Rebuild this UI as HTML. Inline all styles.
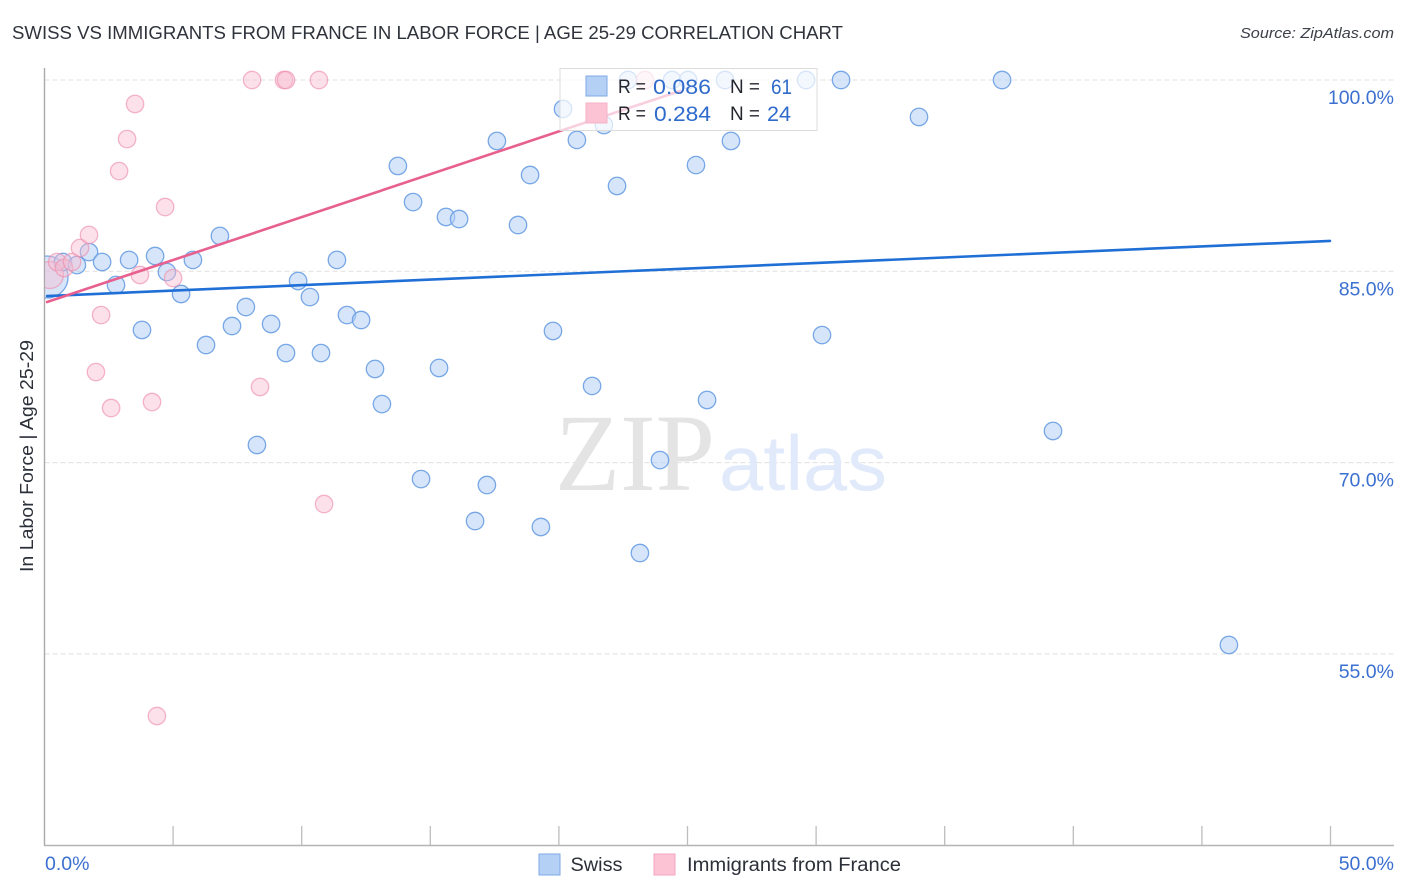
<!DOCTYPE html>
<html lang="en">
<head>
<meta charset="utf-8">
<title>Swiss vs Immigrants from France Correlation Chart</title>
<style>
html,body{margin:0;padding:0;background:#fff;width:1406px;height:892px;overflow:hidden}
svg{display:block;font-family:"Liberation Sans",sans-serif}
</style>
</head>
<body>
<svg id="chart" xmlns="http://www.w3.org/2000/svg" width="1406" height="892" viewBox="0 0 1406 892">
  <defs>
    <clipPath id="plot-clip"><rect x="45" y="60" width="1349" height="785"/></clipPath>
  </defs>
  <text x="12" y="39" font-size="18.5" fill="#2f333b" textLength="831" lengthAdjust="spacingAndGlyphs">SWISS VS IMMIGRANTS FROM FRANCE IN LABOR FORCE | AGE 25-29 CORRELATION CHART</text>
  <text x="1394" y="38" font-size="15" font-style="italic" fill="#3c4048" text-anchor="end" textLength="154" lengthAdjust="spacingAndGlyphs">Source: ZipAtlas.com</text>
  <text transform="translate(33,456) rotate(-90)" font-size="18.5" fill="#2b2f38" text-anchor="middle" textLength="232" lengthAdjust="spacingAndGlyphs">In Labor Force | Age 25-29</text>
  <g id="grid"></g>
  <g>
    <text x="555" y="490" font-family="'Liberation Serif',serif" font-size="110" fill="#e4e4e4" textLength="160" lengthAdjust="spacingAndGlyphs">ZIP</text>
    <text x="719" y="490" font-size="78" fill="#e1eafa" textLength="168" lengthAdjust="spacingAndGlyphs">atlas</text>
  </g>
  <g id="axes">
    <line x1="44.5" y1="68" x2="44.5" y2="845.5" stroke="#aaaaaa" stroke-width="1.4"/>
    <line x1="44" y1="845.5" x2="1394" y2="845.5" stroke="#b4b4b4" stroke-width="1.4"/>
  </g>
  <g clip-path="url(#plot-clip)">
    <g id="blue-points"></g>
    <g id="pink-points"></g>
  </g>
  <g id="trends"></g>
  <g id="tick-labels"></g>
  <g>
    <rect x="560" y="68.5" width="257" height="62" fill="#ffffff" fill-opacity="0.7" stroke="#dcdcdc" stroke-width="1"/>
    <rect x="586" y="76" width="21" height="20" fill="#b5d0f5" stroke="#7ea9e6" stroke-width="1"/>
    <rect x="586" y="103" width="21" height="20" fill="#fcc3d4" stroke="#f5b3c8" stroke-width="1"/>
    <text x="618" y="93" font-size="19" fill="#23262d" textLength="28" lengthAdjust="spacingAndGlyphs">R =</text>
    <text x="653" y="94" font-size="21" fill="#2f6bcb" textLength="58" lengthAdjust="spacingAndGlyphs">0.086</text>
    <text x="730" y="93" font-size="19" fill="#23262d" textLength="30" lengthAdjust="spacingAndGlyphs">N =</text>
    <text x="771" y="94" font-size="21" fill="#2f6bcb" textLength="21" lengthAdjust="spacingAndGlyphs">61</text>
    <text x="618" y="120" font-size="19" fill="#23262d" textLength="28" lengthAdjust="spacingAndGlyphs">R =</text>
    <text x="654" y="121" font-size="21" fill="#2f6bcb" textLength="57" lengthAdjust="spacingAndGlyphs">0.284</text>
    <text x="730" y="120" font-size="19" fill="#23262d" textLength="30" lengthAdjust="spacingAndGlyphs">N =</text>
    <text x="767" y="121" font-size="21" fill="#2f6bcb" textLength="24" lengthAdjust="spacingAndGlyphs">24</text>
  </g>
  <g>
    <rect x="539" y="854" width="21" height="21" fill="#b5d0f5" stroke="#7ea9e6" stroke-width="1"/>
    <text x="570.5" y="871" font-size="19" fill="#2b2f38" textLength="52" lengthAdjust="spacingAndGlyphs">Swiss</text>
    <rect x="654" y="854" width="21" height="21" fill="#fcc3d4" stroke="#f3a6bf" stroke-width="1"/>
    <text x="687" y="871" font-size="19" fill="#2b2f38" textLength="214" lengthAdjust="spacingAndGlyphs">Immigrants from France</text>
  </g>
</svg>
<script>
const swissX = [0.10,0.72,1.26,1.73,2.24,3.29,4.30,2.78,3.79,4.76,5.31,5.77,6.82,7.83,7.29,8.81,6.28,9.39,9.86,10.32,11.37,10.75,11.76,12.31,12.85,13.12,8.26,14.64,15.34,13.74,14.33,15.61,16.12,17.59,18.88,18.41,19.77,20.16,20.70,21.75,22.26,21.29,17.20,16.74,19.30,23.15,23.93,25.76,25.33,26.69,30.23,30.97,37.23,34.00,39.21,46.05,22.69,24.40,25.02,26.46,29.61];
const swissY = [84.55,85.73,85.49,86.51,85.73,85.89,86.20,83.93,80.40,84.94,83.22,85.89,87.77,82.20,80.71,80.87,79.22,78.59,84.24,82.98,85.89,78.59,81.57,81.18,77.34,74.59,71.38,68.71,77.42,93.26,90.43,89.26,89.10,95.22,92.55,88.63,80.32,97.73,95.30,96.47,91.69,76.01,68.24,65.42,64.95,62.91,70.20,74.91,93.33,95.22,80.00,100,100,97.10,72.48,55.70,100,100,100,100,100];
const franceX = [0.21,0.49,0.76,1.07,1.38,1.73,2.20,3.71,5.00,4.69,2.90,3.21,3.52,8.07,9.31,9.39,10.67,2.00,2.59,4.18,8.38,10.87,4.37,23.35];
const franceY = [84.71,85.73,85.26,85.73,86.83,87.85,81.57,84.71,84.47,90.04,92.86,95.37,98.12,100,100,100,100,77.10,74.28,74.75,75.93,66.75,50.13,100];
const swissTrendX = [0.10,49.98];
const swissTrendY = [83.06,87.38];
const franceTrendX = [0.10,24.71];
const franceTrendY = [82.59,99.14];
const yTicks = [100,85,70,55];
const yTickLabels = ["100.0%","85.0%","70.0%","55.0%"];
const xTicks = [5,10,15,20,25,30,35,40,45,50];
const xEndLabels = ["0.0%","50.0%"];

const SVG_NS = "http://www.w3.org/2000/svg";
function xScale(v){ return 44.5 + v * 25.72; }
function yScale(v){ return 80 + (100 - v) * 12.753; }
function make(tag, attrs, parent){
  const el = document.createElementNS(SVG_NS, tag);
  for (const k in attrs) el.setAttribute(k, attrs[k]);
  parent.appendChild(el);
  return el;
}

const gridG = document.getElementById("grid");
const axesG = document.getElementById("axes");
const labelG = document.getElementById("tick-labels");
const blueG = document.getElementById("blue-points");
const pinkG = document.getElementById("pink-points");
const trendG = document.getElementById("trends");

yTicks.forEach(function(t, i){
  const ln = make("line", {x1:44.5, x2:1394, y1:yScale(t), y2:yScale(t), stroke:"#e0e0e0", "stroke-width":1, "stroke-dasharray":"5 3"}, gridG);
  
  
  const tx = make("text", {x:1394, y:yScale(t) + 24, "font-size":19.5, fill:"#3b6fd0", "text-anchor":"end"}, labelG);
  
  
  tx.textContent = yTickLabels[i];
});

xTicks.forEach(function(t){
  const ln = make("line", {x1:xScale(t), x2:xScale(t), y1:826, y2:845, stroke:"#bdbdbd", "stroke-width":1.3}, axesG);
  
  
});

const xLabelStart = make("text", {x:45, y:870, "font-size":19.5, fill:"#3b6fd0"}, labelG);


xLabelStart.textContent = xEndLabels[0];
const xLabelEnd = make("text", {x:1394, y:870, "font-size":19.5, fill:"#3b6fd0", "text-anchor":"end"}, labelG);


xLabelEnd.textContent = xEndLabels[1];

swissX.forEach(function(v, i){
  const c = make("circle", {cx:xScale(v), cy:yScale(swissY[i]), r:i === 0 ? 21 : 8.7, fill:"#b5d0f5", "fill-opacity":0.55, stroke:"#6a9fe3", "stroke-opacity":0.9, "stroke-width":1.3}, blueG);
  
  
});
franceX.forEach(function(v, i){
  const c = make("circle", {cx:xScale(v), cy:yScale(franceY[i]), r:i === 0 ? 13.5 : 8.7, fill:"#f8bcd0", "fill-opacity":0.45, stroke:"#ee8fae", "stroke-opacity":0.65, "stroke-width":1.3}, pinkG);
  
  
});

const blueTrend = make("line", {x1:xScale(swissTrendX[0]), y1:yScale(swissTrendY[0]), x2:xScale(swissTrendX[1]), y2:yScale(swissTrendY[1]), stroke:"#1f6fd6", "stroke-width":2.6, "stroke-linecap":"round"}, trendG);


const pinkTrend = make("line", {x1:xScale(franceTrendX[0]), y1:yScale(franceTrendY[0]), x2:xScale(franceTrendX[1]), y2:yScale(franceTrendY[1]), stroke:"#e8608f", "stroke-width":2.6, "stroke-linecap":"round"}, trendG);


</script>
</body>
</html>
